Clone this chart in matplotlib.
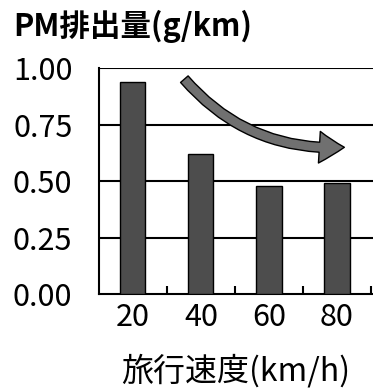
import matplotlib.pyplot as plt
from matplotlib.patches import FancyArrowPatch

# データ
speeds = ['20', '40', '60', '80']
pm_values = [0.94, 0.62, 0.48, 0.49]
y_ticks = [0.00, 0.25, 0.50, 0.75, 1.00]
y_labels = ['0.00', '0.25', '0.50', '0.75', '1.00']

plt.rcParams['font.family'] = ['Noto Sans CJK JP', 'DejaVu Sans']

fig = plt.figure(figsize=(3.73, 3.91), dpi=100)
ax = fig.add_axes([0.265, 0.248, 0.735, 0.578])

x = list(range(len(speeds)))
ax.bar(x, pm_values, width=0.37, color='#4d4d4d', edgecolor='black',
       linewidth=1.0, zorder=3)

# 横グリッド線
for yv in y_ticks[1:]:
    ax.axhline(yv, color='black', linewidth=1.5, zorder=1)

ax.set_xlim(-0.5, 3.53)
ax.set_ylim(0, 1.0)
ax.set_xticks(x)
ax.set_xticklabels(speeds, fontsize=22)
ax.set_yticks(y_ticks)
ax.set_yticklabels(y_labels, fontsize=22)
ax.set_xticks([0.5, 1.5, 2.5, 3.5], minor=True)
ax.tick_params(axis='x', which='major', length=0, pad=6)
ax.tick_params(axis='x', which='minor', direction='in', length=6, width=1.5)
ax.tick_params(axis='y', length=0, pad=19)

for side in ['top', 'right']:
    ax.spines[side].set_visible(False)
for side in ['left', 'bottom']:
    ax.spines[side].set_linewidth(1.5)

# 減少を示す矢印
arrow = FancyArrowPatch((0.73, 0.96), (3.15, 0.65),
                        connectionstyle='arc3,rad=0.25',
                        arrowstyle='simple,head_width=1.9,head_length=1.5,tail_width=0.6',
                        mutation_scale=12, facecolor='#707070',
                        edgecolor='black', linewidth=1.0, zorder=4)
ax.add_patch(arrow)

fig.text(0.035, 0.975, 'PM排出量(g/km)', fontsize=22, fontweight='bold',
         ha='left', va='top')
fig.text(0.633, 0.052, '旅行速度(km/h)', fontsize=23, ha='center', va='center')

fig.savefig('out.png', dpi=100)
